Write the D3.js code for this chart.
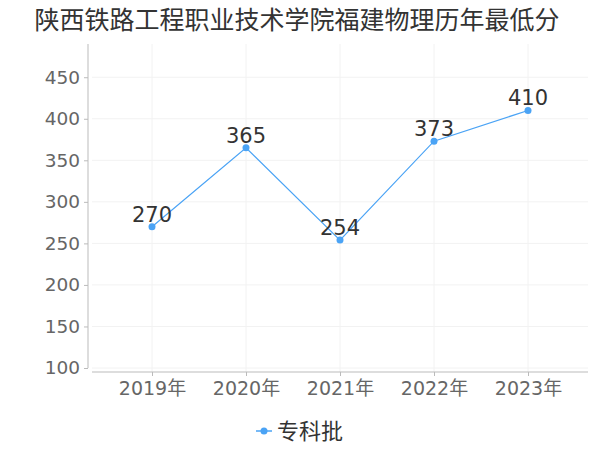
<html>
<head>
  <meta charset="utf-8">
  <script src="https://cdn.jsdelivr.net/npm/d3@7"></script>
  <style>
    body { margin: 0; background: #fff; }
    text { font-family: "DejaVu Sans", "Noto Sans CJK SC", sans-serif; }
  </style>
</head>
<body>
<script>
var years = ['2019年', '2020年', '2021年', '2022年', '2023年'];
var scores = [270, 365, 254, 373, 410];
var yTicks = [100, 150, 200, 250, 300, 350, 400, 450];
var seriesName = '专科批';
var title = '陕西铁路工程职业技术学院福建物理历年最低分';

var width = 600, height = 450;
var color = '#4aa3f5';

var svg = d3.select('body').append('svg')
  .attr('width', width)
  .attr('height', height);

svg.append('text')
  .attr('x', 297).attr('y', 29)
  .attr('text-anchor', 'middle')
  .attr('font-size', 25)
  .attr('fill', '#333')
  .attr('font-family', '"Noto Sans CJK SC", sans-serif')
  .text(title);

var x = d3.scalePoint().domain(years).range([152, 528]);
var y = d3.scaleLinear().domain([100, 490]).range([368, 44]);

// grid
var grid = svg.append('g');
grid.selectAll('line.h')
  .data(yTicks)
  .enter().append('line')
  .attr('x1', 92).attr('x2', 588)
  .attr('y1', function(d){ return y(d); })
  .attr('y2', function(d){ return y(d); })
  .attr('stroke', '#f2f2f2');
grid.selectAll('line.v')
  .data(years)
  .enter().append('line')
  .attr('x1', function(d){ return x(d); })
  .attr('x2', function(d){ return x(d); })
  .attr('y1', 44).attr('y2', 372)
  .attr('stroke', '#f2f2f2');

// y axis
var yAxis = svg.append('g')
  .attr('transform', 'translate(88,0)')
  .call(d3.axisLeft(y).tickValues(yTicks).tickSize(4).tickPadding(4));
yAxis.select('.domain').attr('stroke', '#bbb').attr('d', 'M0,' + y(490) + 'V' + y(100));
yAxis.selectAll('.tick line').attr('stroke', '#bbb');
yAxis.selectAll('.tick text').attr('font-size', 18.5).attr('fill', '#666')
  .attr('font-family', '"DejaVu Sans", sans-serif');

// x axis
var xAxis = svg.append('g')
  .attr('transform', 'translate(0,372)')
  .call(d3.axisBottom(x).tickSize(4).tickPadding(6));
xAxis.select('.domain').attr('stroke', '#bbb').attr('d', 'M92,0H588');
xAxis.selectAll('.tick line').attr('stroke', '#bbb');
xAxis.selectAll('.tick text').attr('font-size', 19).attr('fill', '#666')
  .attr('font-family', '"DejaVu Sans", "Noto Sans CJK SC", sans-serif');

// line
var line = d3.line()
  .x(function(d, i){ return x(years[i]); })
  .y(function(d){ return y(d); });

svg.append('path')
  .datum(scores)
  .attr('fill', 'none')
  .attr('stroke', color)
  .attr('stroke-width', 1.2)
  .attr('d', line);

svg.selectAll('circle.pt')
  .data(scores)
  .enter().append('circle')
  .attr('cx', function(d, i){ return x(years[i]); })
  .attr('cy', function(d){ return y(d); })
  .attr('r', 3.5)
  .attr('fill', color);

svg.selectAll('text.lbl')
  .data(scores)
  .enter().append('text')
  .attr('x', function(d, i){ return x(years[i]); })
  .attr('y', function(d){ return y(d) - 5; })
  .attr('text-anchor', 'middle')
  .attr('font-size', 21)
  .attr('fill', '#333')
  .attr('font-family', '"Noto Sans", sans-serif')
  .text(function(d){ return d; });

// legend
var lg = svg.append('g');
lg.append('line')
  .attr('x1', 256).attr('x2', 272)
  .attr('y1', 431).attr('y2', 431)
  .attr('stroke', color).attr('stroke-width', 1.5);
lg.append('circle')
  .attr('cx', 264).attr('cy', 431).attr('r', 3.5)
  .attr('fill', color);
lg.append('text')
  .attr('x', 277).attr('y', 439)
  .attr('font-size', 22)
  .attr('fill', '#333')
  .attr('font-family', '"Noto Sans CJK SC", sans-serif')
  .text(seriesName);
</script>
</body>
</html>
